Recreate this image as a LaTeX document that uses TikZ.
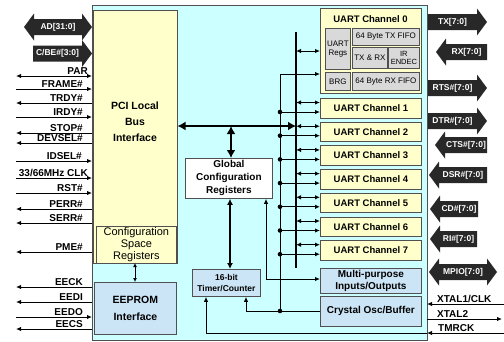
\documentclass[tikz,border=0pt]{standalone}
\usepackage{fontspec}
\setmainfont{Liberation Sans}
\usetikzlibrary{arrows.meta}
\definecolor{cyanbg}{RGB}{204,255,255}
\definecolor{yel}{RGB}{255,255,204}
\definecolor{lblue}{RGB}{204,229,246}
\definecolor{gbox}{RGB}{217,217,217}
\definecolor{blkc}{RGB}{40,40,40}
\definecolor{edge}{RGB}{80,80,80}
\tikzset{
  box/.style={draw=edge, line width=0.8pt, inner sep=0pt, anchor=north west, align=center},
  gsub/.style={box, fill=gbox, font=\fontsize{8}{9}\selectfont},
  chbox/.style={box, fill=yel, font=\fontsize{9.5}{11}\selectfont\bfseries},
  wire/.style={line width=1pt, draw=black},
  bigarrow/.style={line width=2.5pt, {Latex[length=8pt,width=9pt]}-{Latex[length=8pt,width=9pt]}},
  blk/.style={fill=blkc},
  blktxt/.style={text=white, font=\fontsize{8.5}{10}\selectfont\bfseries, inner sep=0pt},
  pinlbl/.style={anchor=base east, inner sep=0pt, font=\fontsize{10}{12}\selectfont\bfseries},
  rpinlbl/.style={anchor=base west, inner sep=0pt, font=\fontsize{10}{12}\selectfont\bfseries},
  jdot/.style={fill=black}
}
\newcommand\blkR[5]{%
  \fill[blk] (#2,#4-8) -- (#3-10,#4-8) -- (#3-10,#4-13.5) -- (#3,#4) -- (#3-10,#4+13.5) -- (#3-10,#4+8) -- (#2,#4+8) -- cycle;
  \node[blktxt] (#1) at ({(#2+#3-10)/2},#4) {#5};}
\newcommand\blkL[5]{%
  \fill[blk] (#3,#4-8) -- (#2+10,#4-8) -- (#2+10,#4-13.5) -- (#2,#4) -- (#2+10,#4+13.5) -- (#2+10,#4+8) -- (#3,#4+8) -- cycle;
  \node[blktxt] (#1) at ({(#2+10+#3)/2},#4) {#5};}
\newcommand\blkD[5]{%
  \fill[blk] (#2,#4) -- (#2+10,#4-13.5) -- (#2+10,#4-8) -- (#3-10,#4-8) -- (#3-10,#4-13.5) -- (#3,#4) -- (#3-10,#4+13.5) -- (#3-10,#4+8) -- (#2+10,#4+8) -- (#2+10,#4+13.5) -- cycle;
  \node[blktxt] (#1) at ({(#2+#3)/2},#4) {#5};}
\newcommand\lpin[5]{%
  \coordinate (#1a) at (16,#2); \coordinate (#1b) at (92,#2);
  \draw[wire,#3] (#1a) -- (#1b);
  \node[pinlbl] (#1) at (#4,#2-2) {#5};}
\begin{document}
\begin{tikzpicture}[x=1pt,y=-1pt,>={Latex[length=5pt,width=4.5pt]}]
\useasboundingbox (0,0) rectangle (504,341);
% main frame
\node[box, fill=cyanbg, line width=1pt, minimum width=335, minimum height=335] (outer) at (92,5) {};
% PCI interface
\node[box, fill=yel, minimum width=84, minimum height=253] (pci) at (93,10) {};
\node[align=center, inner sep=0pt, font=\fontsize{10.5}{16}\selectfont\bfseries] (pcitxt) at (135,122) {PCI Local\\Bus\\Interface};
\node[box, fill=yel, minimum width=80, minimum height=37, font=\fontsize{11}{12}\selectfont] (cfg) at (96,226) {Configuration\\Space\\Registers};
\node[box, fill=lblue, minimum width=82, minimum height=52, font=\fontsize{10.5}{17}\selectfont\bfseries] (eeprom) at (94,282) {EEPROM\\Interface};
\coordinate (ce1) at (135,263); \coordinate (ce2) at (135,282);
\draw[wire,<->,>={Latex[length=4pt,width=4pt]}] (ce1) -- (ce2);
% global config and timer
\node[box, fill=white, minimum width=87, minimum height=40, font=\fontsize{10}{13}\selectfont\bfseries] (global) at (185,158) {Global\\Configuration\\Registers};
\node[box, fill=lblue, minimum width=68, minimum height=27, font=\fontsize{8.5}{11}\selectfont\bfseries] (timer) at (192,269) {16-bit\\Timer/Counter};
% UART channel 0
\node[box, fill=yel, minimum width=101, minimum height=85] (uart0) at (320,8) {};
\node[inner sep=0pt, font=\fontsize{9.5}{11}\selectfont\bfseries] (u0t) at (370.5,19) {UART Channel 0};
\node[gsub, minimum width=25, minimum height=41] (uregs) at (325,28) {UART\\Regs};
\node[gsub, minimum width=25, minimum height=18] (brg) at (325,72) {BRG};
\node[gsub, minimum width=67, minimum height=17] (txfifo) at (352,28) {64 Byte TX FIFO};
\node[gsub, minimum width=35, minimum height=21] (txrx) at (352,47) {TX \& RX};
\node[gsub, minimum width=31, minimum height=21, font=\fontsize{7.5}{8.5}\selectfont] (irendec) at (388,47) {IR\\ENDEC};
\node[gsub, minimum width=67, minimum height=18] (rxfifo) at (352,72) {64 Byte RX FIFO};
% other channels
\foreach \k in {1,...,7}{
  \pgfmathsetmacro\t{98+23.7*(\k-1)}
  \node[chbox, minimum width=101, minimum height=19.5] (ch\k) at (320,\t) {UART Channel \k};
  \coordinate (da\k) at (296,\t+4.5);
  \draw[wire,<->] (da\k) -- (ch\k.west |- da\k);
  \coordinate (sa\k) at (280,\t+14);
  \draw[wire,->] (sa\k) -- (ch\k.west |- sa\k);
  \fill[jdot] (sa\k) circle (2.3pt);
}
\node[box, fill=lblue, minimum width=101, minimum height=25, font=\fontsize{10}{12}\selectfont\bfseries] (mpio) at (320,268) {Multi-purpose\\Inputs/Outputs};
\node[box, fill=lblue, minimum width=101, minimum height=30, font=\fontsize{10}{12}\selectfont\bfseries] (xtal) at (320,296) {Crystal Osc/Buffer};
% buses
\coordinate (busT) at (296,32); \coordinate (busB) at (296,268);
\draw[line width=2.5pt] (busT) -- (busB);
\coordinate (clkT) at (280,74); \coordinate (clkB) at (280,311);
\draw[wire] (clkB) -- (clkT);
\draw[wire,->] (clkT) -- (uart0.west |- clkT);
\coordinate (u0a) at (296,51);
\draw[wire,<->] (u0a) -- (uart0.west |- u0a);
\coordinate (pciB) at (177.5,126); \coordinate (busM) at (296,126);
\draw[bigarrow] (pciB) -- (busM);
\coordinate (gT) at (231,126);
\draw[bigarrow] (gT) -- (global.north -| gT);
\coordinate (gtA) at (230,198);
\draw[line width=1.6pt,<->,>={Latex[length=6pt,width=6pt]}] (global.south -| gtA) -- (timer.north -| gtA);
\coordinate (g2) at (266,198); \coordinate (g2c) at (266,279);
\draw[wire,<->] (global.south -| g2) -- (g2c) -- (mpio.west |- g2c);
\coordinate (tc) at (246,311);
\draw[wire,->] (xtal.west |- tc) -- (tc) -- (timer.south -| tc);
\fill[jdot] (clkB) circle (2.3pt);
% right side pins
\coordinate (x1a) at (504,304); \coordinate (x1b) at (427,304);
\draw[wire,->] (x1a) -- (x1b);
\node[rpinlbl] (x1l) at (437,302) {XTAL1/CLK};
\coordinate (x2a) at (427,319); \coordinate (x2b) at (502,319);
\draw[wire,->] (x2a) -- (x2b);
\node[rpinlbl] (x2l) at (437,317) {XTAL2};
\coordinate (tma) at (504,333); \coordinate (tmb) at (427,333); \coordinate (tmc) at (206,333);
\draw[wire] (tmb) -- (tmc);
\draw[wire,->] (tmc) -- (timer.south -| tmc);
\draw[wire,->] (tma) -- (tmb);
\node[rpinlbl] (tml) at (438,331) {TMRCK};
% left side pins
\blkD{ad}{24}{92}{27}{AD[31:0]}
\blkR{cbe}{33}{92}{53.5}{C/BE\#[3:0]}
\lpin{par}{76}{<->}{88}{PAR}
\lpin{frame}{89}{->}{83}{FRAME\#}
\lpin{trdy}{103}{<-}{83}{TRDY\#}
\lpin{irdy}{117}{->}{83}{IRDY\#}
\lpin{stop}{133}{<-}{83}{STOP\#}
\lpin{devsel}{143}{<-}{83}{DEVSEL\#}
\lpin{idsel}{161}{->}{82}{IDSEL\#}
\lpin{clk}{178}{->}{88}{33/66MHz CLK}
\lpin{rst}{193}{->}{83}{RST\#}
\lpin{perr}{209}{<-}{83}{PERR\#}
\lpin{serr}{223}{<-}{83}{SERR\#}
\lpin{pme}{252}{<-}{83}{PME\#}
\lpin{eeck}{287}{<-}{83}{EECK}
\lpin{eedi}{302}{<-}{83}{EEDI}
\lpin{eedo}{317}{->}{83}{EEDO}
\lpin{eecs}{329}{<-}{83}{EECS}
% right block arrows
\blkR{tx}{428}{487}{22}{TX[7:0]}
\blkL{rx}{436}{487}{52}{RX[7:0]}
\blkR{rts}{428}{487}{88}{RTS\#[7:0]}
\blkR{dtr}{428}{487}{121}{DTR\#[7:0]}
\blkL{cts}{435}{487}{145}{CTS\#[7:0]}
\blkL{dsr}{429}{487}{175}{DSR\#[7:0]}
\blkL{cd}{430}{478}{209}{CD\#[7:0]}
\blkL{ri}{430}{477}{239}{RI\#[7:0]}
\blkD{mpiop}{429}{497}{272}{MPIO[7:0]}
\end{tikzpicture}
\end{document}
